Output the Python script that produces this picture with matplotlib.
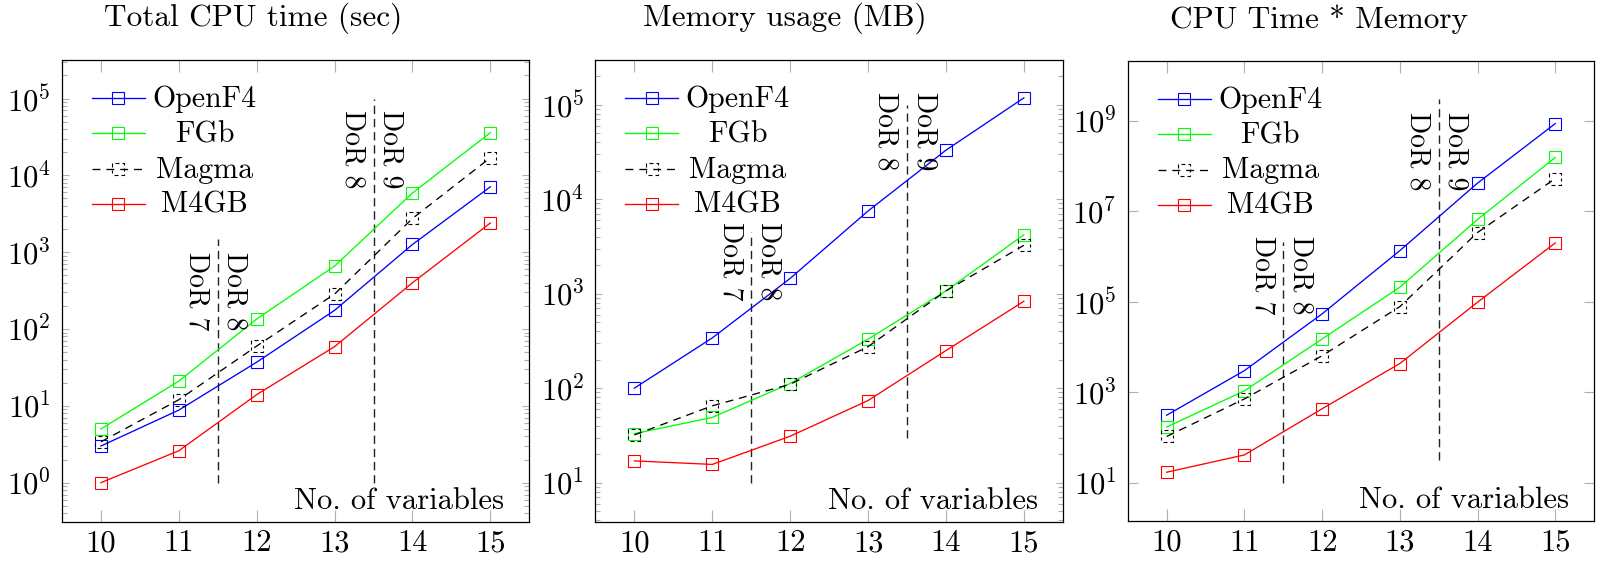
import numpy as np
import matplotlib
matplotlib.use('Agg')
import matplotlib.pyplot as plt
import matplotlib.transforms as mtransforms
from matplotlib.path import Path
from matplotlib.ticker import FixedLocator, LogFormatterMathtext, NullFormatter, NullLocator

plt.rcParams['font.family'] = ['cmr10', 'DejaVu Serif']
plt.rcParams['mathtext.fontset'] = 'cm'
plt.rcParams['axes.formatter.use_mathtext'] = True
plt.rcParams['axes.unicode_minus'] = False

# ---------------- data ----------------
n_vars = [10, 11, 12, 13, 14, 15]
series_names = ['OpenF4', 'FGb', 'Magma', 'M4GB']

cpu_openf4 = [3.0, 8.8, 37, 175, 1260, 7100]
cpu_fgb = [5.0, 21, 135, 660, 5900, 36000]
cpu_magma = [3.4, 12, 60, 285, 2750, 17000]
cpu_m4gb = [1.0, 2.6, 14, 59, 400, 2400]

mem_openf4 = [100, 340, 1450, 7500, 33000, 118000]
mem_fgb = [33, 49, 112, 330, 1070, 4200]
mem_magma = [32, 65, 110, 275, 1070, 3250]
mem_m4gb = [17, 15.6, 31, 74, 250, 830]

prod_openf4 = [310, 3000, 54000, 1.35e6, 4.2e7, 8.7e8]
prod_fgb = [170, 1070, 15000, 2.1e5, 6.6e6, 1.55e8]
prod_magma = [105, 710, 6400, 78000, 3.4e6, 5.3e7]
prod_m4gb = [17, 41, 430, 4300, 98000, 2.0e6]

titles = ['Total CPU time (sec)', 'Memory usage (MB)', 'CPU Time * Memory']
xlabel_text = 'No. of variables'
dor_x = [11.5, 13.5]
dor_labels = [('DoR 7', 'DoR 8'), ('DoR 8', 'DoR 9')]

panels = [
    dict(series=[cpu_openf4, cpu_fgb, cpu_magma, cpu_m4gb],
         ylim=(10 ** -0.507, 10 ** 5.507),
         majors=[1e0, 1e1, 1e2, 1e3, 1e4, 1e5], minor=True,
         dor_lines=[(1, 1500), (1, 1e5)], dor_text_top=[1000, 7e4]),
    dict(series=[mem_openf4, mem_fgb, mem_magma, mem_m4gb],
         ylim=(10 ** 0.588, 10 ** 5.477),
         majors=[1e1, 1e2, 1e3, 1e4, 1e5], minor=True,
         dor_lines=[(10, 4500), (30, 1e5)], dor_text_top=[5800, 1.35e5]),
    dict(series=[prod_openf4, prod_fgb, prod_magma, prod_m4gb],
         ylim=(10 ** 0.154, 10 ** 10.333),
         majors=[1e1, 1e3, 1e5, 1e7, 1e9], minor=False,
         dor_lines=[(10, 2.1e6), (31, 3e9)], dor_text_top=[2.8e6, 1.6e9]),
]

# ---------------- style ----------------
colors = ['#0000ff', '#00ff00', '#000000', '#ff0000']
linestyles = ['-', '-', (0, (6, 4.5)), '-']


def dashed_square():
    corners = np.array([(-0.5, -0.5), (0.5, -0.5), (0.5, 0.5), (-0.5, 0.5)])

    def pt(t):
        t = t % 4.0
        i = int(np.floor(t)) % 4
        f = t - np.floor(t)
        a, b = corners[i], corners[(i + 1) % 4]
        return a + (b - a) * f

    verts, codes = [], []
    on, off = 0.32, 0.25
    t = 0.15
    while t < 4.15:
        te = min(t + on, 4.15)
        ts = [t] + [float(c) for c in range(int(np.floor(t)) + 1, int(np.ceil(te)))] + [te]
        for k, tt in enumerate(ts):
            verts.append(pt(tt))
            codes.append(Path.MOVETO if k == 0 else Path.LINETO)
        t = te + off
    return Path(np.array(verts), codes)


markers = ['s', 's', dashed_square(), 's']

W, H = 1611, 566
fig = plt.figure(figsize=(W / 100, H / 100), dpi=100)
axes_px = [(62.0, 59.6, 529.3, 521.6), (595.4, 59.6, 1062.8, 521.6), (1127.8, 60.6, 1594.1, 520.9)]
title_pos = [(252.8, 26), (784.8, 26), (1318.6, 28.5)]

FS_TITLE = 22.5
FS_TEXT = 21.5
FS_DOR = 20
FS_XLAB = 22
FS_TICK = 22
tick_col = '#b0b0b0'
MS = 8.3

for p, (l, t, r, b), (tx, ty), title in zip(panels, axes_px, title_pos, titles):
    ax = fig.add_axes([l / W, 1 - b / H, (r - l) / W, (b - t) / H])
    ax.set_yscale('log')
    for vals, name, c, ls, m in zip(p['series'], series_names, colors, linestyles, markers):
        ax.plot(n_vars, vals, color=c, ls=ls, lw=0.95, marker=m, ms=MS,
                mfc='none', mec=c, mew=0.8, zorder=3)

    ax.set_xlim(9.5, 15.5)
    ax.set_ylim(*p['ylim'])
    ax.set_xticks(n_vars)
    ax.set_xticklabels([str(v) for v in n_vars])
    ax.yaxis.set_major_locator(FixedLocator(p['majors']))
    ax.yaxis.set_major_formatter(LogFormatterMathtext())
    if p['minor']:
        lo = int(np.floor(np.log10(p['ylim'][0])))
        hi = int(np.ceil(np.log10(p['ylim'][1])))
        mins = [m * 10.0 ** e for e in range(lo, hi) for m in range(2, 10)]
        ax.yaxis.set_minor_locator(FixedLocator(mins))
    else:
        ax.yaxis.set_minor_locator(NullLocator())
    ax.yaxis.set_minor_formatter(NullFormatter())
    ax.xaxis.set_minor_locator(NullLocator())

    ax.tick_params(which='both', direction='in', top=True, right=True,
                   color=tick_col, width=0.8, labelsize=FS_TICK, labelcolor='black')
    ax.tick_params(axis='x', which='major', length=8.6, pad=6)
    ax.tick_params(axis='y', which='major', length=7.2 if not p['minor'] else 5.0, pad=8)
    ax.tick_params(axis='y', which='minor', length=3.6)
    for s in ax.spines.values():
        s.set_linewidth(0.9)
        s.set_color('black')

    # DoR separators
    for xd, (ylo, yhi), ytop, (lab_l, lab_r) in zip(dor_x, p['dor_lines'], p['dor_text_top'], dor_labels):
        ax.plot([xd, xd], [ylo, yhi], color='#222222', lw=1.0, ls=(0, (6, 3.5)), zorder=2)
        ax.annotate(lab_l, xy=(xd, ytop), xytext=(-5.6, 0), textcoords='offset points',
                    rotation=270, ha='right', va='top', fontsize=FS_DOR)
        ax.annotate(lab_r, xy=(xd, ytop), xytext=(2.9, 0), textcoords='offset points',
                    rotation=270, ha='left', va='top', fontsize=FS_DOR)

    # x label inside bottom-right
    ax.text(1, 0, xlabel_text, fontsize=FS_XLAB, ha='right', va='baseline',
            transform=mtransforms.offset_copy(ax.transAxes, fig=fig, x=-25, y=13, units='dots'))

    # manual legend (pixel offsets from the axes top-left corner)
    tr = mtransforms.Affine2D() + mtransforms.ScaledTranslation(0, 1, ax.transAxes)
    for i, (name, c, ls, m) in enumerate(zip(series_names, colors, linestyles, markers)):
        yy = -(38.3 + 35.3 * i)
        ax.plot([29.7, 83], [yy, yy], color=c, ls=ls, lw=0.95, transform=tr, clip_on=False)
        ax.plot([56.4], [yy], color=c, marker=m, ms=MS, mfc='none', mec=c, mew=0.8,
                ls='none', transform=tr, clip_on=False)
        ax.text(142.5, yy - 9, name, fontsize=FS_TEXT, ha='center', va='baseline', transform=tr)

    fig.text(tx / W, 1 - ty / H, title, fontsize=FS_TITLE, ha='center', va='baseline')

fig.savefig('out.png', dpi=100)
